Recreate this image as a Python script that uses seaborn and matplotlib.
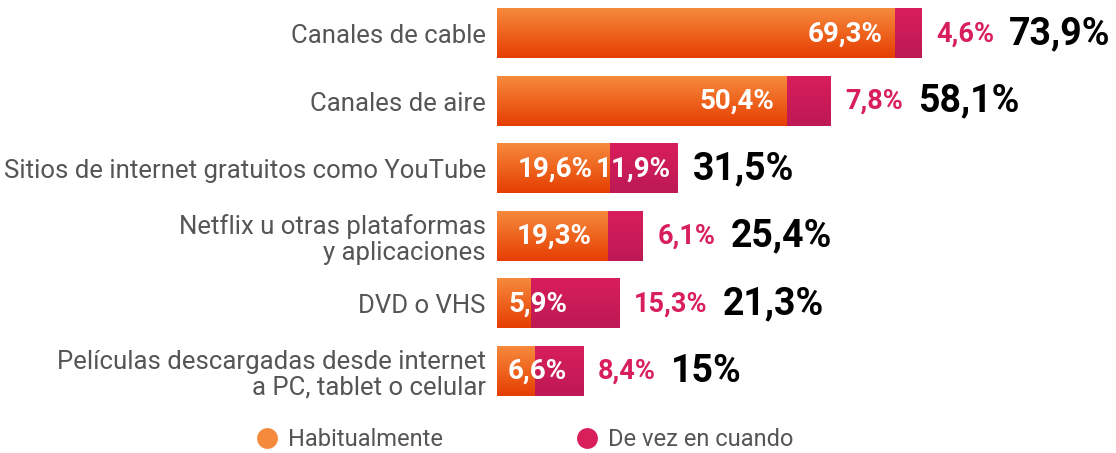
import numpy as np
import pandas as pd
import matplotlib.pyplot as plt
import seaborn as sns
from matplotlib.lines import Line2D

# Datos
categorias = [
    "Canales de cable",
    "Canales de aire",
    "Sitios de internet gratuitos como YouTube",
    "Netflix u otras plataformas\ny aplicaciones",
    "DVD o VHS",
    "Películas descargadas desde internet\na PC, tablet o celular",
]
habitualmente = [69.3, 50.4, 19.6, 19.3, 5.9, 6.6]
de_vez_en_cuando = [4.6, 7.8, 11.9, 6.1, 15.3, 8.4]
total = [73.9, 58.1, 31.5, 25.4, 21.3, 15.0]
total_labels = ["73,9%", "58,1%", "31,5%", "25,4%", "21,3%", "15%"]

df = pd.DataFrame({"cat": categorias, "hab": habitualmente,
                   "vez": de_vez_en_cuando, "total": total})

def fmt(v):
    return f"{v:.1f}".replace(".", ",") + "%"

sns.set_style("white")
plt.rcParams["font.family"] = ["Roboto", "DejaVu Sans"]

naranja_top, naranja_bot = "#F68A3C", "#E63E02"
magenta_top, magenta_bot = "#D81E5B", "#BD1955"
gris = "#555555"

fig = plt.figure(figsize=(11.16, 4.53), dpi=100)
ax = fig.add_axes([497 / 1116, 1 - 405 / 453, 1 - 497 / 1116, 405 / 453])

# barras apiladas: total (magenta) debajo, habitual (naranja) encima
sns.barplot(data=df, x="total", y="cat", color=magenta_bot, width=0.73,
            saturation=1, ax=ax)
n_mag = len(ax.patches)
sns.barplot(data=df, x="hab", y="cat", color=naranja_bot, width=0.73,
            saturation=1, ax=ax)

xmax = (1116 - 497) / 5.74
ax.set_xlim(0, xmax)
ax.set_ylim(5.5, -0.5)

# degradado vertical en cada barra
def gradient(c1, c2):
    a = np.array(plt.matplotlib.colors.to_rgb(c1))
    b = np.array(plt.matplotlib.colors.to_rgb(c2))
    t = np.linspace(0, 1, 64)[:, None]
    return (a * (1 - t) + b * t)[:, None, :]

for i, p in enumerate(ax.patches):
    x0, y0 = p.get_x(), p.get_y()
    w, h = p.get_width(), p.get_height()
    g = gradient(magenta_top, magenta_bot) if i < n_mag else gradient(naranja_top, naranja_bot)
    ax.imshow(g, extent=(x0, x0 + w, y0 + h, y0), aspect="auto",
              zorder=2 + (i >= n_mag), interpolation="bilinear")
    p.set_visible(False)
ax.set_xlim(0, xmax)
ax.set_ylim(5.5, -0.5)

sns.despine(ax=ax, left=True, bottom=True)
ax.set_xticks([])
ax.set_xlabel("")
ax.set_ylabel("")
ax.tick_params(axis="y", length=0, pad=8)
ax.set_yticks(range(len(categorias)))
ax.set_yticklabels(categorias, fontsize=18.5, color=gris, linespacing=1.1,
                   ha="right")

fig.canvas.draw()
renderer = fig.canvas.get_renderer()
px = 1 / 5.74  # un pixel en unidades de datos

for i in range(len(categorias)):
    h, v, t = habitualmente[i], de_vez_en_cuando[i], total[i]
    # etiqueta habitualmente (blanca)
    if h < 10:
        ax.text(11 * px, i, fmt(h), ha="left", va="center", color="white",
                fontsize=20, fontweight="bold", zorder=5)
    elif h < 30:
        ax.text(h / 2 + 2 * px, i, fmt(h), ha="center", va="center", color="white",
                fontsize=20, fontweight="bold", zorder=5)
    else:
        ax.text(h - 12 * px, i, fmt(h), ha="right", va="center", color="white",
                fontsize=20, fontweight="bold", zorder=5)
    # etiqueta de vez en cuando
    if v > 10 and h > 10:
        lab = ax.text(t - 7 * px, i, fmt(v), ha="right", va="center",
                      color="white", fontsize=20, fontweight="bold", zorder=5)
        right = t
    else:
        lab = ax.text(t + 15 * px, i, fmt(v), ha="left", va="center",
                      color=magenta_top, fontsize=19.5, fontweight="bold", zorder=5)
        bb = lab.get_window_extent(renderer)
        right = ax.transData.inverted().transform((bb.x1, 0))[0]
    ax.text(right + 15 * px, i, total_labels[i], ha="left", va="center",
            color="black", fontsize=27, fontweight="bold", zorder=5)

handles = [
    Line2D([], [], marker="o", linestyle="", markersize=15,
           markerfacecolor="#F68A3C", markeredgecolor="none", label="Habitualmente"),
    Line2D([], [], marker="o", linestyle="", markersize=15,
           markerfacecolor=magenta_top, markeredgecolor="none", label="De vez en cuando"),
]
leg = fig.legend(handles=handles, loc="center", bbox_to_anchor=(523 / 1116, 1 - 440 / 453),
                 ncol=2, frameon=False, fontsize=17, columnspacing=5.5,
                 handletextpad=0.3, handlelength=1.2)
for txt in leg.get_texts():
    txt.set_color(gris)

fig.savefig("out.png", dpi=100)
